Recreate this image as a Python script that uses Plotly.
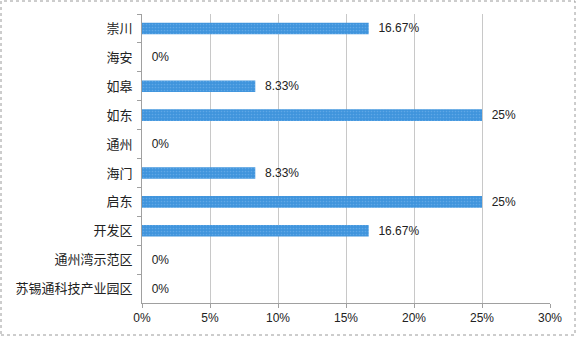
import plotly.graph_objects as go

# Share of projects by district (%)
districts = ["崇川", "海安", "如皋", "如东", "通州", "海门", "启东", "开发区", "通州湾示范区", "苏锡通科技产业园区"]
shares = [16.67, 0, 8.33, 25, 0, 8.33, 25, 16.67, 0, 0]
x_ticks = [0, 5, 10, 15, 20, 25, 30]
x_tick_text = [f"{t}%" for t in x_ticks]

labels = ["  " + f"{v:g}%" for v in shares]

W, H = 577, 337
L, R, T, B = 142, 27, 14, 34
pw, ph = W - L - R, H - T - B

fig = go.Figure(
    go.Bar(
        x=shares,
        y=districts,
        orientation="h",
        width=0.4,
        marker=dict(
            color="#3f94dc",
            line=dict(width=0),
            pattern=dict(shape=".", fgcolor="#7fbaf0", size=3, solidity=0.25),
        ),
        text=labels,
        textposition="outside",
        constraintext="none",
        cliponaxis=False,
        textfont=dict(family="Liberation Sans, Arial", size=12, color="#222222"),
    )
)

# dotted frame around the whole chart area
fig.add_shape(
    type="rect", xref="paper", yref="paper",
    x0=(1 - L) / pw, x1=(W - 2 - L) / pw,
    y0=(H - B - (H - 2)) / ph, y1=(H - B - 1) / ph,
    line=dict(color="#9a9a9a", width=1, dash="dot"),
)

fig.update_layout(
    width=W, height=H,
    margin=dict(l=L, r=R, t=T, b=B),
    paper_bgcolor="white", plot_bgcolor="white",
    showlegend=False,
)
fig.update_xaxes(
    range=[0, 30], tickvals=x_ticks, ticktext=x_tick_text,
    showgrid=True, gridcolor="#c8c8c8", gridwidth=1,
    showline=True, linecolor="#a0a0a0", linewidth=1,
    ticks="outside", ticklen=4, tickcolor="#a0a0a0",
    tickfont=dict(family="Liberation Sans, Arial", size=12, color="#222222"),
    zeroline=False,
)
fig.update_yaxes(
    autorange="reversed", type="category",
    showline=True, linecolor="#a0a0a0", linewidth=1,
    ticks="outside", ticklen=4, tickcolor="#a0a0a0", tickson="boundaries",
    tickfont=dict(family="Noto Sans CJK SC", size=13, color="#222222"),
    showgrid=False, ticklabelstandoff=6,
)

fig.write_html("out.html")
